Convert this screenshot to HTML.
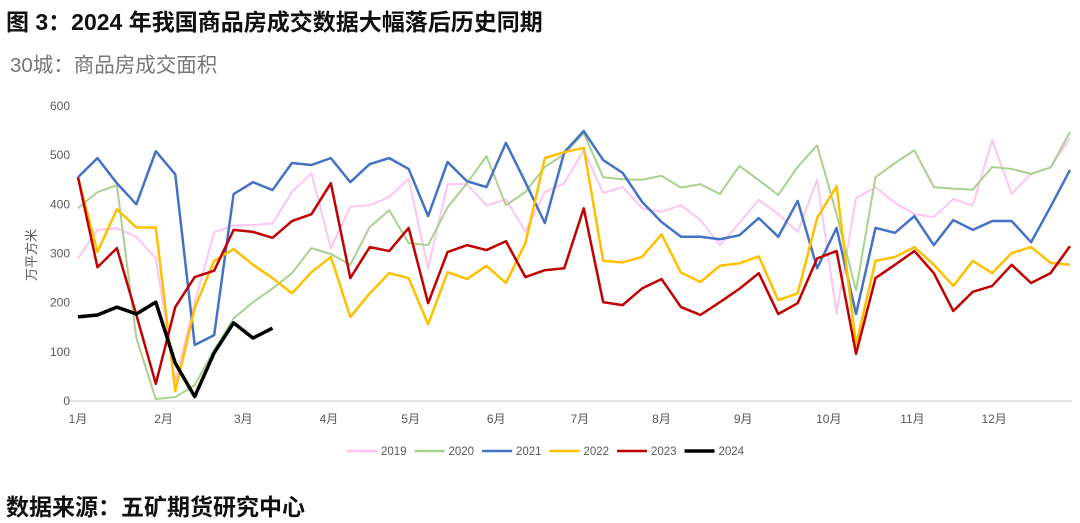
<!DOCTYPE html>
<html><head><meta charset="utf-8">
<style>
body{margin:0;background:#fff;width:1080px;height:523px;overflow:hidden;font-family:"Liberation Sans","Noto Sans CJK SC",sans-serif;}
.title{position:absolute;left:6px;top:3px;font-size:23px;font-weight:bold;color:#111;}
.sub{position:absolute;left:10px;top:48px;font-size:20.5px;color:#777;}
.src{position:absolute;left:6px;top:488px;font-size:23px;font-weight:bold;color:#111;}
svg{position:absolute;left:0;top:0;}
</style></head><body>
<div class="title">图 3：2024 年我国商品房成交数据大幅落后历史同期</div>
<div class="sub">30城：商品房成交面积</div>
<div class="src">数据来源：五矿期货研究中心</div>
<svg id="chart" width="1080" height="523"></svg>
<script>
const years=["2019","2020","2021","2022","2023","2024"];
const colors=["#FDC5F2","#A9D18E","#4472C4","#FFC000","#C00000","#000000"];
const s2019=[290,348,351,334,290,40,200,343,357,358,361,425,463,311,395,398,415,452,270,441,441,398,410,345,425,443,510,423,435,392,385,398,368,317,362,409,380,344,450,178,413,435,403,380,374,411,397,531,421,462,475,535];
const s2020=[392,425,439,128,4,8,32,104,168,201,229,260,311,299,277,354,388,321,317,394,443,498,398,425,476,502,545,455,451,450,458,434,441,421,478,449,419,476,520,380,225,455,484,510,435,432,430,476,472,462,475,547];
const s2021=[455,494,443,400,508,461,114,134,421,445,429,484,480,494,445,482,494,472,376,486,447,435,525,445,362,506,549,490,464,405,364,334,334,329,337,372,334,407,270,352,177,352,342,376,317,368,348,366,366,323,395,470];
const s2022=[455,303,390,353,353,20,189,285,309,277,250,219,262,293,171,219,260,250,156,262,248,275,240,321,494,506,515,285,282,293,339,261,242,275,280,294,205,219,372,437,114,285,293,313,277,234,285,260,301,313,281,277];
const s2023=[455,272,311,175,35,191,252,265,348,344,332,366,380,443,250,313,305,352,199,303,317,307,325,252,266,270,392,201,195,229,248,191,175,201,228,260,177,199,290,305,96,250,277,305,260,183,222,234,277,240,260,315];
const s2024=[171,175,191,177,201,77,9,98,159,128,148];
const series=[s2019,s2020,s2021,s2022,s2023,s2024];
const yTicks=[0,100,200,300,400,500,600];
const months=["1月","2月","3月","4月","5月","6月","7月","8月","9月","10月","11月","12月"];
const monthPos=[0,4.4,8.5,12.9,17.1,21.5,25.8,30.0,34.2,38.6,42.9,47.1];
const NS="http://www.w3.org/2000/svg";
const svg=document.getElementById('chart');
const X=i=>78+i*(992/51);
const Y=v=>401-v*(295/600);
function mk(t,a){const e=document.createElementNS(NS,t);for(const k in a)e.setAttribute(k,a[k]);svg.appendChild(e);return e;}
const ax=mk('line',{x1:68,x2:1072,y1:401,y2:401,stroke:'#d9d9d9','stroke-width':1.5});


yTicks.forEach(v=>{const t=mk('text',{x:70,y:Y(v)+4,'text-anchor':'end','font-size':12,fill:'#595959'});t.textContent=v;

});
months.forEach((m,i)=>{const t=mk('text',{x:X(monthPos[i]),y:423,'text-anchor':'middle','font-size':12,fill:'#595959'});t.textContent=m;

});
const yt=mk('text',{x:0,y:0,'font-size':13,fill:'#595959','text-anchor':'middle',transform:'translate(36,255) rotate(-90)'});yt.textContent='万平方米';


series.forEach((s,k)=>{const p=mk('polyline',{points:s.map((v,i)=>X(i)+','+Y(v)).join(' '),fill:'none',stroke:colors[k],'stroke-width':k==5?3.5:(k==0||k==1?2:2.5),'stroke-linejoin':'round'});

});
years.forEach((y,k)=>{const x0=347+k*67.5;
const l=mk('line',{x1:x0,x2:x0+30,y1:451,y2:451,stroke:colors[k],'stroke-width':k==5?3.5:2.5});


const t=mk('text',{x:x0+34,y:455,'font-size':11.5,fill:'#595959'});t.textContent=y;

});
</script>
</body></html>
